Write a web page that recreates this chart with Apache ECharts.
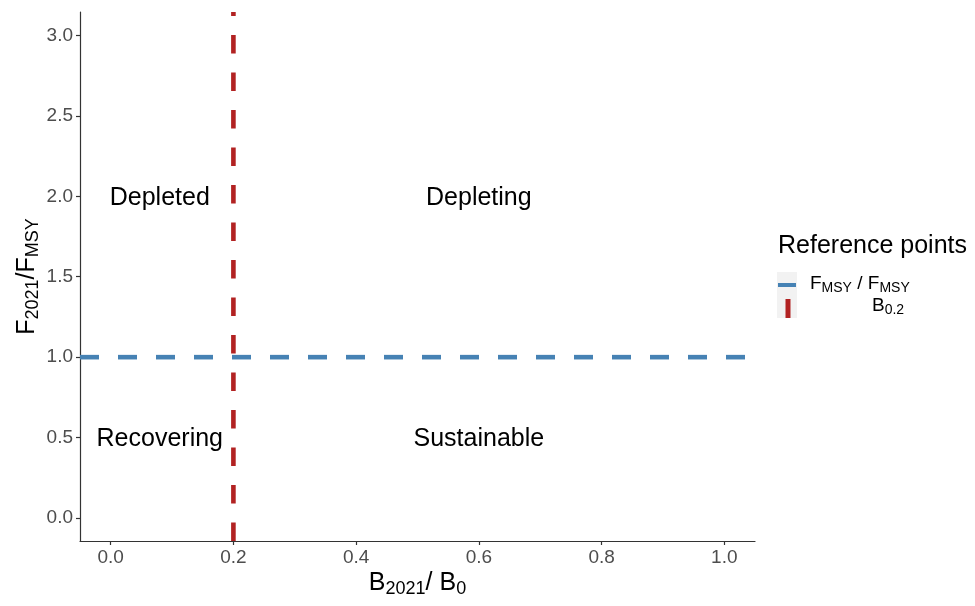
<!DOCTYPE html>
<html>
<head>
<meta charset="utf-8">
<script src="https://cdn.jsdelivr.net/npm/echarts@6/dist/echarts.min.js"></script>
<style>html,body{margin:0;padding:0;background:#fff;}#c{width:975px;height:606px;}</style>
</head>
<body>
<div id="c"></div>
<script>
// ---- data ----
const xTicks = [0.0, 0.2, 0.4, 0.6, 0.8, 1.0];
const yTicks = [0.0, 0.5, 1.0, 1.5, 2.0, 2.5, 3.0];
const xRange = [-0.05, 1.05];
const yRange = [-0.143, 3.146];
const fmsyRef = 1.0;      // F/FMSY reference
const b02Ref = 0.2;       // B0.2 reference
const zoneNames = ['Depleted', 'Depleting', 'Recovering', 'Sustainable'];
const zoneX = [0.08, 0.6, 0.08, 0.6];
const zoneY = [1.99, 1.99, 0.49, 0.49];

const FONT = '"Liberation Sans", Arial, sans-serif';
const chart = echarts.init(document.getElementById('c'), null, {renderer: 'canvas'});

const subPad = [12, 0, 0, 0];
const option = {
  backgroundColor: '#ffffff',
  animation: false,
  textStyle: {fontFamily: FONT},
  grid: {left: 80, right: 220, top: 12, bottom: 65, containLabel: false},
  xAxis: {
    type: 'value', min: xRange[0], max: xRange[1],
    name: '{m|B}{s|2021}{m|/ B}{s|0}',
    nameLocation: 'middle', nameGap: 27, nameMoveOverlap: false,
    nameTextStyle: {
      rich: {
        m: {fontSize: 25, color: '#000', fontFamily: FONT},
        s: {fontSize: 18, color: '#000', fontFamily: FONT, padding: subPad}
      }
    },
    axisLine: {show: true, onZero: false, lineStyle: {color: '#333333', width: 1.2}},
    axisTick: {show: true, length: 4, customValues: xTicks, lineStyle: {color: '#333333', width: 1.2}},
    axisLabel: {show: true, customValues: xTicks, color: '#4D4D4D', fontSize: 19, margin: 7, fontFamily: FONT,
      formatter: v => v.toFixed(1)},
    splitLine: {show: false}
  },
  yAxis: {
    type: 'value', min: yRange[0], max: yRange[1],
    name: '{m|F}{s|2021}{m|/F}{s|MSY}',
    nameLocation: 'middle', nameGap: 38, nameMoveOverlap: false,
    nameTextStyle: {
      rich: {
        m: {fontSize: 25, color: '#000', fontFamily: FONT},
        s: {fontSize: 18, color: '#000', fontFamily: FONT, padding: subPad}
      }
    },
    axisLine: {show: true, onZero: false, lineStyle: {color: '#333333', width: 1.2}},
    axisTick: {show: true, length: 4, customValues: yTicks, lineStyle: {color: '#333333', width: 1.2}},
    axisLabel: {show: true, customValues: yTicks, color: '#4D4D4D', fontSize: 19, margin: 7, fontFamily: FONT,
      formatter: v => v.toFixed(1)},
    splitLine: {show: false}
  },
  series: [
    {
      type: 'line', name: 'B0.2', symbol: 'none', clip: false, z: 2,
      data: [[b02Ref, yRange[0]], [b02Ref, yRange[1]]],
      lineStyle: {color: '#B22222', width: 4.6, type: [18.5, 19], cap: 'butt'}
    },
    {
      type: 'line', name: 'FMSY', symbol: 'none', clip: false, z: 3,
      data: [[xRange[0], fmsyRef], [xRange[1], fmsyRef]],
      lineStyle: {color: '#4682B4', width: 4.6, type: [19, 19], cap: 'butt'}
    },
    {
      type: 'scatter', symbolSize: 0, z: 4, silent: true,
      data: zoneNames.map((n, i) => ({value: [zoneX[i], zoneY[i]], name: n})),
      label: {show: true, position: 'inside', formatter: p => p.name, color: '#000000', opacity: 1,
        textBorderWidth: 0, fontSize: 25, fontFamily: FONT}
    }
  ],
  graphic: [
    {type: 'text', left: 778, top: 234, style: {text: 'Reference points', font: '25px ' + FONT, fill: '#000'}},
    {type: 'rect', shape: {x: 777, y: 272, width: 20, height: 46}, style: {fill: '#F2F2F2'}},
    {type: 'line', shape: {x1: 778, y1: 285, x2: 796, y2: 285}, style: {stroke: '#4682B4', lineWidth: 4}},
    {type: 'line', shape: {x1: 788, y1: 299, x2: 788, y2: 318}, style: {stroke: '#B22222', lineWidth: 5}},
    {type: 'text', left: 810, top: 274, style: {
      text: '{m|F}{s|MSY}{m| / F}{s|MSY}',
      rich: {m: {fontSize: 19, fill: '#000', fontFamily: FONT}, s: {fontSize: 14, fill: '#000', fontFamily: FONT, padding: [9, 0, 0, 0]}}
    }},
    {type: 'text', left: 872, top: 296, style: {
      text: '{m|B}{s|0.2}',
      rich: {m: {fontSize: 19, fill: '#000', fontFamily: FONT}, s: {fontSize: 14, fill: '#000', fontFamily: FONT, padding: [9, 0, 0, 0]}}
    }}
  ]
};
chart.setOption(option);
</script>
</body>
</html>
